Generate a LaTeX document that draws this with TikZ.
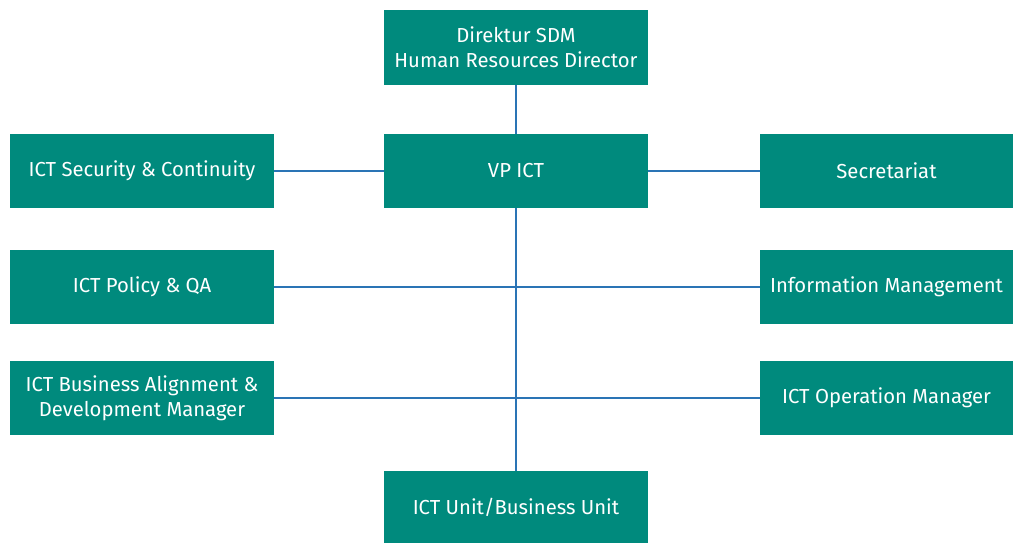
\documentclass[tikz,border=0pt]{standalone}
\usepackage{fontspec}
\setmainfont{Fira Sans}
\definecolor{boxteal}{HTML}{008A7D}
\definecolor{lineblue}{HTML}{2A74B5}
\begin{document}
\begin{tikzpicture}[x=0.75pt,y=-0.75pt,
  orgbox/.style={fill=boxteal,draw=none,text=white,font=\fontsize{15.2}{19}\selectfont,align=center,inner sep=0pt},
  link/.style={draw=lineblue,line width=1.5pt}]
\useasboundingbox (0,0) rectangle (1014,543);
\node[orgbox,minimum width=264*0.75pt,minimum height=75*0.75pt] (dir) at (516,47.5) {Direktur SDM\\Human Resources Director};
\node[orgbox,minimum width=264*0.75pt,minimum height=74*0.75pt] (vp) at (516,171) {VP ICT};
\node[orgbox,minimum width=264*0.75pt,minimum height=74*0.75pt] (sec) at (142,171) {ICT Security \& Continuity};
\node[orgbox,minimum width=253*0.75pt,minimum height=74*0.75pt] (secr) at (886.5,171) {Secretariat};
\node[orgbox,minimum width=264*0.75pt,minimum height=74*0.75pt] (pol) at (142,287) {ICT Policy \& QA};
\node[orgbox,minimum width=253*0.75pt,minimum height=74*0.75pt] (info) at (886.5,287) {Information Management};
\node[orgbox,minimum width=264*0.75pt,minimum height=74*0.75pt] (bus) at (142,398) {ICT Business Alignment \&\\Development Manager};
\node[orgbox,minimum width=253*0.75pt,minimum height=74*0.75pt] (ops) at (886.5,398) {ICT Operation Manager};
\node[orgbox,minimum width=264*0.75pt,minimum height=72*0.75pt] (unit) at (516,507) {ICT Unit/Business Unit};
\draw[link] (dir.south) -- (vp.north);
\draw[link] (sec.east) -- (vp.west);
\draw[link] (vp.east) -- (secr.west);
\draw[link] (vp.south) -- (unit.north);
\draw[link] (pol.east) -- (info.west);
\draw[link] (bus.east) -- (ops.west);
\end{tikzpicture}
\end{document}
